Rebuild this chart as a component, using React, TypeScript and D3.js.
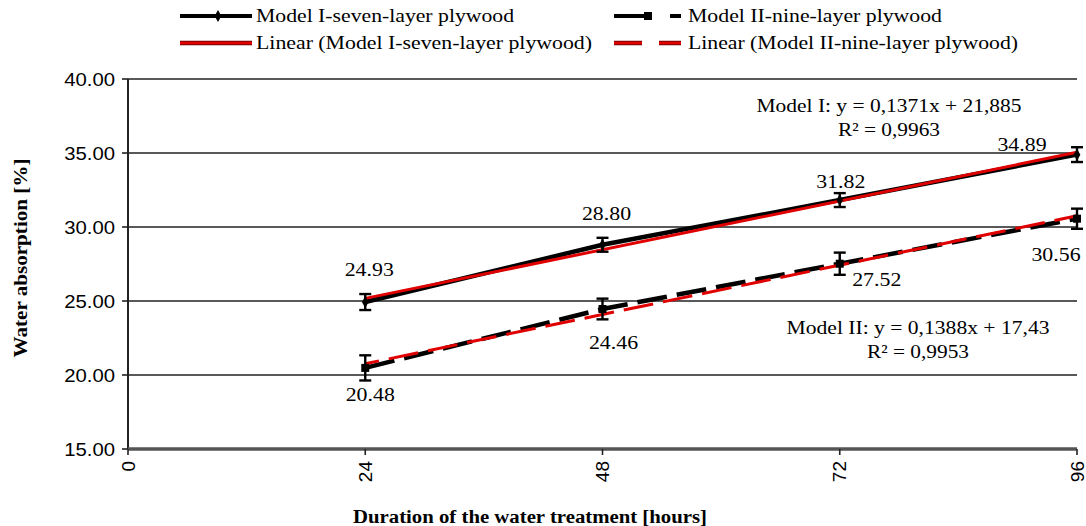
import React from "react";
import * as d3 from "d3";

const hours = [24, 48, 72, 96];
const model1 = [24.93, 28.8, 31.82, 34.89];
const model2 = [20.48, 24.46, 27.52, 30.56];
const err1 = [0.54, 0.47, 0.47, 0.5];
const err2 = [0.85, 0.7, 0.75, 0.68];
const trend1 = { slope: 0.1371, intercept: 21.885 };
const trend2 = { slope: 0.1388, intercept: 17.43 };
const xTicks = [0, 24, 48, 72, 96];
const yTicks = [15, 20, 25, 30, 35, 40];
const legendLabels = [
  "Model I-seven-layer plywood",
  "Model II-nine-layer plywood",
  "Linear (Model I-seven-layer plywood)",
  "Linear (Model II-nine-layer plywood)",
];
const eq1 = ["Model I: y = 0,1371x + 21,885", "R² = 0,9963"];
const eq2 = ["Model II: y = 0,1388x + 17,43", "R² = 0,9953"];
const xTitle = "Duration of the water treatment [hours]";
const yTitle = "Water absorption [%]";

const W = 1086;
const H = 526;
const x = d3.scaleLinear().domain([0, 96]).range([128, 1077]);
const y = d3.scaleLinear().domain([15, 40]).range([449, 79]);

const SERIF = "'Liberation Serif', 'Times New Roman', serif";
const SANS = "'Liberation Sans', Arial, sans-serif";

function T({ x: tx, y: ty, sx = 1.12, size = 19, anchor = "middle", font = SERIF, weight = "normal", children, len }: any) {
  return (
    <text
      transform={`translate(${tx},${ty}) scale(${sx},1)`}
      fontFamily={font}
      fontSize={size}
      fontWeight={weight}
      textAnchor={anchor}
      fill="#000"
      textLength={len ? len / sx : undefined}
      lengthAdjust={len ? "spacingAndGlyphs" : undefined}
    >
      {children}
    </text>
  );
}

export default function App() {
  const line = d3
    .line<number>()
    .x((_, i) => x(hours[i]))
    .y((v) => y(v));
  const t1 = [hours[0], hours[3]].map((h) => trend1.slope * h + trend1.intercept);
  const t2 = [hours[0], hours[3]].map((h) => trend2.slope * h + trend2.intercept);
  const tline = d3
    .line<number>()
    .x((_, i) => x(i === 0 ? hours[0] : hours[3]))
    .y((v) => y(v));

  // label offsets (dx, baseline dy) relative to point
  const lab1Off = [
    [4, -26],
    [4, -25],
    [1, -12],
    [-55, -4],
  ];
  const lab2Off = [
    [5, 33],
    [11, 40],
    [37, 22],
    [-21, 42],
  ];

  const diamond = d3.symbol(d3.symbolDiamond, 40)();
  const square = d3.symbol(d3.symbolSquare, 64)();

  return (
    <svg width={W} height={H} style={{ display: "block", position: "absolute", left: 0, top: 0 }}>
      <rect width={W} height={H} fill="#fff" />
      {/* gridlines */}
      {yTicks.slice(1).map((t) => (
        <line key={t} x1={x(0)} x2={x(96)} y1={y(t)} y2={y(t)} stroke="#222" strokeWidth={1.6} />
      ))}
      {/* y axis */}
      <line x1={x(0)} x2={x(0)} y1={y(40)} y2={y(15)} stroke="#222" strokeWidth={2} />
      {yTicks.map((t) => (
        <g key={t}>
          <line x1={x(0) - 6} x2={x(0)} y1={y(t)} y2={y(t)} stroke="#222" strokeWidth={1.6} />
          <T x={115} y={y(t) + 6.5} anchor="end" font={SANS} size={19} sx={1.07}>
            {t.toFixed(2)}
          </T>
        </g>
      ))}
      {/* x axis */}
      <line x1={x(0)} x2={x(96)} y1={y(15)} y2={y(15)} stroke="#555" strokeWidth={3.5} />
      {xTicks.map((t) => (
        <g key={t}>
          <line x1={x(t)} x2={x(t)} y1={y(15)} y2={y(15) + 6} stroke="#222" strokeWidth={1.6} />
          <text
            transform={`translate(${x(t) + 6.5},${y(15) + 12}) rotate(-90)`}
            fontFamily={SANS}
            fontSize={19}
            textAnchor="end"
            fill="#000"
          >
            {t}
          </text>
        </g>
      ))}
      {/* data lines */}
      <path d={line(model1) || ""} fill="none" stroke="#000" strokeWidth={4.5} />
      <path d={line(model2) || ""} fill="none" stroke="#000" strokeWidth={4.5} strokeDasharray="30,10" />
      {/* trend lines */}
      <path d={tline(t1) || ""} fill="none" stroke="#e00000" strokeWidth={3} />
      <path d={tline(t2) || ""} fill="none" stroke="#e00000" strokeWidth={3} strokeDasharray="30,10" strokeDashoffset={16} />
      {/* markers + error bars */}
      {hours.map((h, i) => (
        <g key={"m" + h}>
          <path d={diamond || ""} transform={`translate(${x(h)},${y(model1[i])})`} fill="#000" />
          <path d={square || ""} transform={`translate(${x(h)},${y(model2[i])})`} fill="#000" />
          {[
            [model1[i], err1[i]],
            [model2[i], err2[i]],
          ].map(([v, e], k) => (
            <g key={k} stroke="#000" strokeWidth={2.4}>
              <line x1={x(h)} x2={x(h)} y1={y(v + e)} y2={y(v - e)} />
              <line x1={x(h) - 6} x2={x(h) + 6} y1={y(v + e)} y2={y(v + e)} />
              <line x1={x(h) - 6} x2={x(h) + 6} y1={y(v - e)} y2={y(v - e)} />
            </g>
          ))}
        </g>
      ))}
      {/* data labels */}
      {hours.map((h, i) => (
        <g key={"l" + h}>
          <T x={x(h) + lab1Off[i][0]} y={y(model1[i]) + lab1Off[i][1]} size={19} sx={1.15}>
            {model1[i].toFixed(2)}
          </T>
          <T x={x(h) + lab2Off[i][0]} y={y(model2[i]) + lab2Off[i][1]} size={19} sx={1.15}>
            {model2[i].toFixed(2)}
          </T>
        </g>
      ))}
      {/* equations */}
      <T x={889} y={112} size={19} len={265}>{eq1[0]}</T>
      <T x={889} y={136} size={19} len={102}>{eq1[1]}</T>
      <T x={918} y={334} size={19} len={263}>{eq2[0]}</T>
      <T x={918} y={358} size={19} len={102}>{eq2[1]}</T>
      {/* legend */}
      <line x1={180} x2={252} y1={16} y2={16} stroke="#000" strokeWidth={4} />
      <path d={diamond || ""} transform="translate(218,16)" fill="#000" />
      <T x={256} y={22} anchor="start" size={19} len={258}>{legendLabels[0]}</T>
      <line x1={180} x2={252} y1={43} y2={43} stroke="#7a0000" strokeWidth={4.5} />
      <line x1={180} x2={252} y1={43} y2={43} stroke="#e00000" strokeWidth={2.5} />
      <T x={256} y={49} anchor="start" size={19} len={336}>{legendLabels[2]}</T>
      <line x1={614} x2={648} y1={16} y2={16} stroke="#000" strokeWidth={4} />
      <path d={square || ""} transform="translate(648,16)" fill="#000" />
      <line x1={670} x2={681} y1={16} y2={16} stroke="#000" strokeWidth={4} />
      <T x={688} y={22} anchor="start" size={19} len={254}>{legendLabels[1]}</T>
      <line x1={614} x2={642} y1={43} y2={43} stroke="#7a0000" strokeWidth={4.5} />
      <line x1={614} x2={642} y1={43} y2={43} stroke="#e00000" strokeWidth={2.5} />
      <line x1={659} x2={681} y1={43} y2={43} stroke="#7a0000" strokeWidth={4.5} />
      <line x1={659} x2={681} y1={43} y2={43} stroke="#e00000" strokeWidth={2.5} />
      <T x={688} y={49} anchor="start" size={19} len={330}>{legendLabels[3]}</T>
      {/* axis titles */}
      <T x={530} y={523} size={18} weight="bold" len={354} sx={1}>{xTitle}</T>
      <text
        transform="translate(27,258) rotate(-90)"
        fontFamily={SERIF}
        fontSize={18}
        fontWeight="bold"
        textAnchor="middle"
        textLength={199}
        lengthAdjust="spacingAndGlyphs"
        fill="#000"
      >
        {yTitle}
      </text>
    </svg>
  );
}
